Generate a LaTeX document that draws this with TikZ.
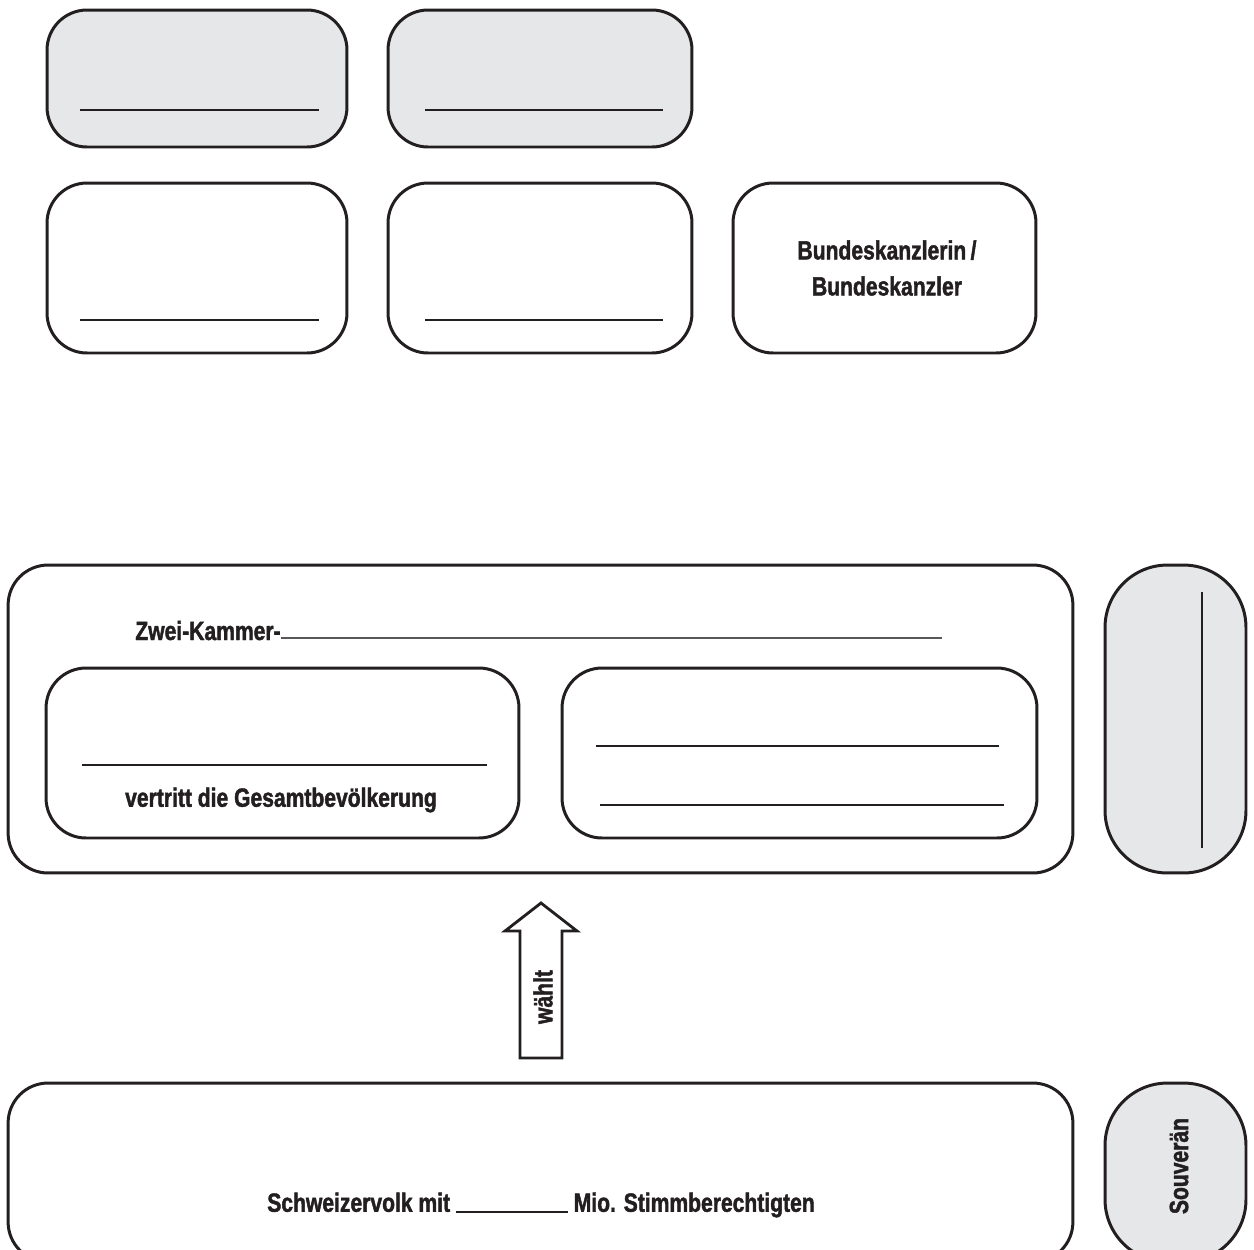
\documentclass[tikz,border=0pt]{standalone}
\usepackage{fontspec}
\newfontfamily\cf[FakeStretch=0.8,FakeBold=1.6]{Liberation Sans}
\definecolor{ink}{HTML}{231F20}
\definecolor{boxgray}{HTML}{E6E7E8}
\begin{document}
\begin{tikzpicture}[x=0.02cm,y=-0.02cm,
  box/.style={draw=ink,line width=1.7pt,rounded corners=0.8cm,inner sep=0pt,outer sep=0pt},
  graybox/.style={box,fill=boxgray},
  tallbox/.style={draw=ink,line width=1.7pt,rounded corners=1.25cm,inner sep=0pt,outer sep=0pt},
  fillline/.style={draw=ink,line width=0.8pt},
  lbl/.style={font=\cf\bfseries\fontsize{15}{20.5}\selectfont,text=ink,inner sep=0pt}
]
\useasboundingbox (0,0) rectangle (1254,1249);
% top row
\node[graybox,minimum width=6cm,minimum height=2.74cm] (A) at (197,78.5) {};
\node[graybox,minimum width=6.08cm,minimum height=2.74cm] (B) at (540,78.5) {};
\draw[fillline] (80,110) -- (319,110);
\draw[fillline] (425,110) -- (663,110);
% second row
\node[box,minimum width=6cm,minimum height=3.4cm] (C) at (197,268) {};
\node[box,minimum width=6.08cm,minimum height=3.4cm] (D) at (540,268) {};
\node[box,minimum width=6.06cm,minimum height=3.4cm] (E) at (884.5,268) {};
\node[lbl,align=center] (Etext) at (887,268) {Bundeskanzlerin\,/\\Bundeskanzler};
\draw[fillline] (80,320) -- (319,320);
\draw[fillline] (425,320) -- (663,320);
% parliament
\node[box,minimum width=21.3cm,minimum height=6.16cm] (F) at (540.5,719) {};
\node[lbl,anchor=base west] (Z) at (135,640) {Zwei-Kammer-};
\coordinate (Zend) at (942,638);
\draw[draw=ink!75,line width=1pt] (Z.east |- Zend) -- (Zend);
\node[box,minimum width=9.46cm,minimum height=3.4cm] (G) at (282.5,753) {};
\draw[fillline] (82,765) -- (487,765);
\node[lbl] (Gtext) at (281,800) {vertritt die Gesamtbevölkerung};
\node[box,minimum width=9.5cm,minimum height=3.4cm] (H) at (799.5,753) {};
\draw[fillline] (596,746) -- (999,746);
\draw[fillline] (600,805) -- (1004,805);
\node[tallbox,fill=boxgray,minimum width=2.82cm,minimum height=6.16cm] (I) at (1175.5,719) {};
\draw[draw=ink,line width=0.7pt] (1202,592) -- (1202,848);
% arrow
\draw[draw=ink,line width=1.6pt,fill=white,line join=miter]
  (541,903) -- (577,931) -- (562,931) -- (562,1058) -- (520,1058) -- (520,931) -- (505,931) -- cycle;
\node[lbl,rotate=90] (W) at (543,997) {wählt};
% people
\node[box,minimum width=21.3cm,minimum height=3.58cm] (J) at (540.5,1172.5) {};
\node[lbl] (Jtext) at (541,1205) {Schweizervolk mit \rule[-0.6pt]{2.24cm}{0.8pt} Mio. Stimmberechtigten};
\node[tallbox,fill=boxgray,minimum width=2.82cm,minimum height=3.58cm] (K) at (1175.5,1172.5) {};
\node[lbl,rotate=90] (Ktext) at (1179,1166) {Souverän};
\end{tikzpicture}
\end{document}
